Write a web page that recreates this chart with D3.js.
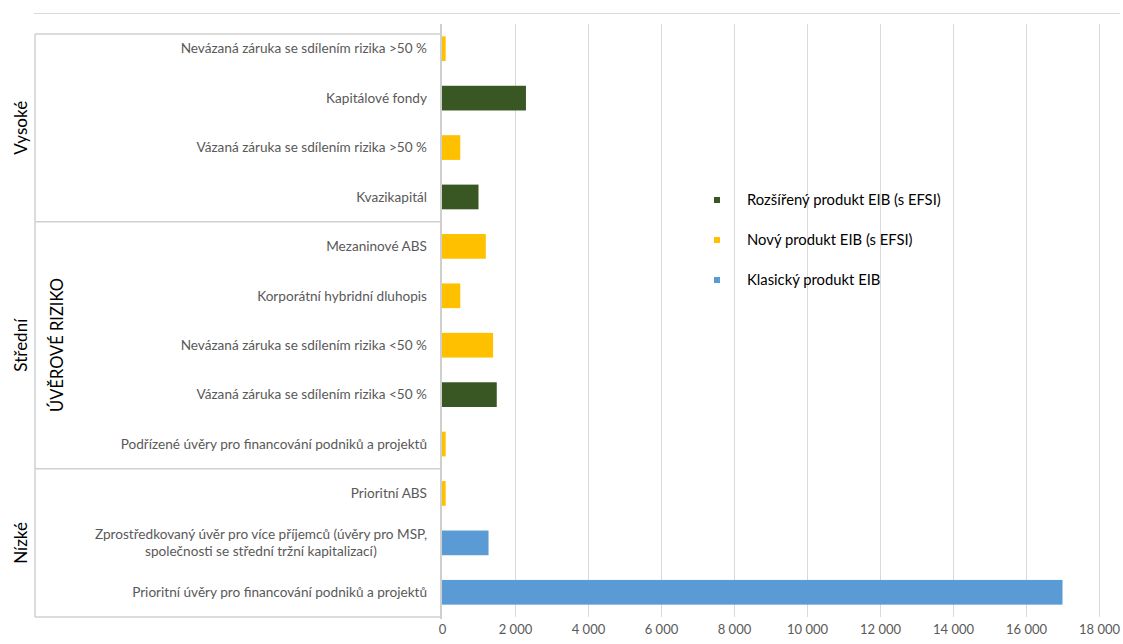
<!DOCTYPE html>
<html>
<head>
<meta charset="utf-8">
<script src="https://cdn.jsdelivr.net/npm/d3@7/dist/d3.min.js"></script>
<style>
  html, body { margin: 0; padding: 0; background: #fff; }
  svg { display: block; font-family: Lato, "Open Sans", sans-serif; }
</style>
</head>
<body>
<svg id="chart" width="1123" height="644"></svg>
<script>
// Product categories, top to bottom
const categories = [
  "Nevázaná záruka se sdílením rizika >50 %",
  "Kapitálové fondy",
  "Vázaná záruka se sdílením rizika >50 %",
  "Kvazikapitál",
  "Mezaninové ABS",
  "Korporátní hybridní dluhopis",
  "Nevázaná záruka se sdílením rizika <50 %",
  "Vázaná záruka se sdílením rizika <50 %",
  "Podřízené úvěry pro financování podniků a projektů",
  "Prioritní ABS",
  "Zprostředkovaný úvěr pro více příjemců (úvěry pro MSP,\nspolečnosti se střední tržní kapitalizací)",
  "Prioritní úvěry pro financování podniků a projektů"
];

// Risk level groups and how many categories each covers
const groupNames = ["Vysoké", "Střední", "Nízké"];
const groupSizes = [4, 5, 3];

// Series values per category (null = not in that series)
const seriesNames = ["Rozšířený produkt EIB (s EFSI)", "Nový produkt EIB (s EFSI)", "Klasický produkt EIB"];
const rozsireny = [null, 2300, null, 1000, null, null, null, 1500, null, null, null, null];
const novy      = [100, null, 500, null, 1200, 500, 1400, null, 100, 100, null, null];
const klasicky  = [null, null, null, null, null, null, null, null, null, null, 1275, 17000];
const seriesColors = ["#385723", "#FFC000", "#5B9BD5"];

const xTicks = [0, 2000, 4000, 6000, 8000, 10000, 12000, 14000, 16000, 18000];
const axisTitle = "ÚVĚROVÉ RIZIKO";

const svg = d3.select("#chart");
const fmt = v => d3.format(",")(v).replace(/,/g, " ");

const x = d3.scaleLinear().domain([0, 18000]).range([442, 1099]);
const y = d3.scaleBand().domain(d3.range(categories.length)).range([24, 617]).paddingInner(0.5).paddingOuter(0.25);

// top border line
svg.append("line").attr("x1", 34).attr("x2", 1120).attr("y1", 13.5).attr("y2", 13.5)
  .attr("stroke", "#d9d9d9").attr("stroke-width", 1);

// vertical gridlines
svg.append("g").selectAll("line").data(xTicks.slice(1)).join("line")
  .attr("x1", d => Math.round(x(d)) + 0.5).attr("x2", d => Math.round(x(d)) + 0.5)
  .attr("y1", 24).attr("y2", 617)
  .attr("stroke", "#d9d9d9").attr("stroke-width", 1);

// x axis tick labels
const xAxis = d3.axisBottom(x).tickValues(xTicks).tickFormat(fmt).tickSize(0).tickPadding(0);
const gx = svg.append("g").attr("transform", "translate(0,622)").call(xAxis);
gx.select(".domain").remove();
gx.selectAll("text").attr("fill", "#595959").style("font-size", "13px")
  .style("font-family", "Lato, sans-serif").attr("dy", "0.9em");

// bars
const seriesData = [rozsireny, novy, klasicky];
seriesData.forEach((vals, si) => {
  svg.append("g").selectAll("rect")
    .data(vals.map((v, i) => ({ v, i })).filter(d => d.v != null))
    .join("rect")
    .attr("x", x(0))
    .attr("y", d => y(d.i))
    .attr("width", d => x(d.v) - x(0))
    .attr("height", y.bandwidth())
    .attr("fill", seriesColors[si]);
});

// category axis line
svg.append("line").attr("x1", 441).attr("x2", 441).attr("y1", 24).attr("y2", 619)
  .attr("stroke", "#cfcfcf").attr("stroke-width", 2);

// group boxes
const boxLeft = 35, boxRight = 441, boxTop = 34, boxBottom = 617;
const bounds = [boxTop];
let acc = 0;
groupSizes.forEach((n, gi) => {
  acc += n;
  if (acc < categories.length) {
    bounds.push((y(acc - 1) + y(acc) + y.bandwidth()) / 2);
  }
});
bounds.push(boxBottom);

const gBox = svg.append("g").attr("stroke", "#d0d0d0").attr("stroke-width", 1.5).attr("fill", "none");
gBox.append("line").attr("x1", boxLeft).attr("x2", boxRight).attr("y1", boxTop).attr("y2", boxTop);
gBox.append("line").attr("x1", boxLeft).attr("x2", boxLeft).attr("y1", boxTop).attr("y2", boxBottom);
gBox.append("line").attr("x1", boxLeft).attr("x2", boxRight).attr("y1", boxBottom).attr("y2", boxBottom);
bounds.slice(1, -1).forEach(b => {
  gBox.append("line").attr("x1", boxLeft).attr("x2", boxRight).attr("y1", b).attr("y2", b);
});

// group labels
groupNames.forEach((name, gi) => {
  const cy = (bounds[gi] + bounds[gi + 1]) / 2;
  svg.append("text")
    .attr("transform", `translate(27,${cy}) rotate(-90)`)
    .attr("text-anchor", "middle")
    .attr("fill", "#000")
    .style("font-size", "17px")
    .text(name);
});

// axis title
svg.append("text")
  .attr("transform", `translate(63,345) rotate(-90)`)
  .attr("text-anchor", "middle")
  .attr("fill", "#000")
  .style("font-size", "16.5px")
  .text(axisTitle);

// category labels
const labelRight = 427;
categories.forEach((c, i) => {
  const lines = c.split("\n");
  const cy = y(i) + y.bandwidth() / 2;
  const t = svg.append("text")
    .attr("fill", "#595959")
    .style("font-size", "13.6px");
  if (lines.length === 1) {
    t.attr("x", labelRight).attr("y", cy).attr("dy", "0.35em").attr("text-anchor", "end").text(c);
  } else {
    const lh = 17;
    lines.forEach((ln, li) => {
      t.append("tspan").attr("x", 0).attr("y", cy + (li - (lines.length - 1) / 2) * lh)
        .attr("dy", "0.35em").text(ln);
    });
    const w = t.node().getBBox().width;
    t.attr("text-anchor", "middle");
    t.selectAll("tspan").attr("x", labelRight - w / 2);
  }
});

// legend
const legendY = [200, 240, 280];
seriesNames.forEach((name, si) => {
  const g = svg.append("g").attr("transform", `translate(714,${legendY[si]})`);
  g.append("rect").attr("x", 0).attr("y", -3).attr("width", 6).attr("height", 6).attr("fill", seriesColors[si]);
  g.append("text").attr("x", 33).attr("y", 0).attr("dy", "0.35em")
    .attr("fill", "#000").style("font-size", "14.8px").text(name);
});
</script>
</body>
</html>
